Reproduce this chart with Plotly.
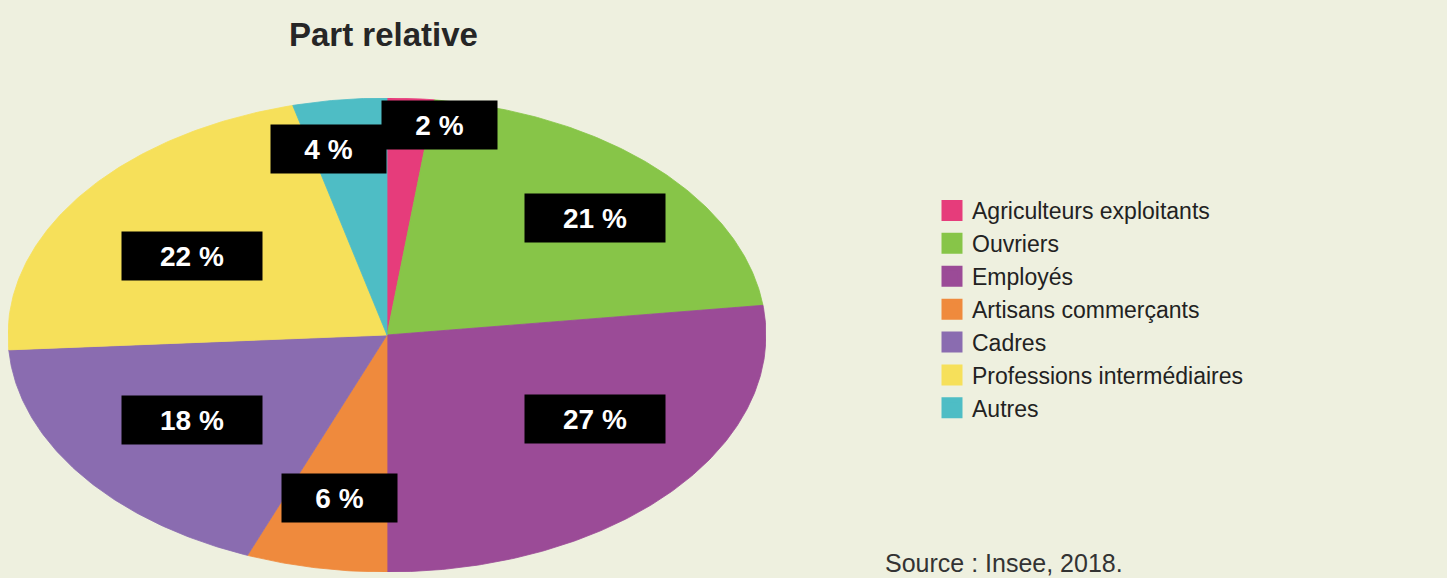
import math
import plotly.graph_objects as go

# ---- data ----
categories = ["Agriculteurs exploitants", "Ouvriers", "Employés", "Artisans commerçants",
              "Cadres", "Professions intermédiaires", "Autres"]
shares = [2, 21, 27, 6, 18, 22, 4]
title_text = "Part relative"
source_text = "Source : Insee, 2018."

# ---- styles ----
colors = ["#e63c7b", "#87c548", "#9b4b97", "#ef8a3d", "#8a6cb0", "#f6e05a", "#4ebdc5"]
label_radius = [0.9, 0.74, 0.66, 0.7, 0.63, 0.62, 0.79]
label_xshift = [31, 10, 20, 2, -2, -5, -21]
label_yshift = [-3, -7, 19, 0, 3, -7, 0]
bg = "#eef0df"
font_family = "Liberation Sans, Arial, sans-serif"

W, H = 1447, 578
fig = go.Figure()

total = sum(shares)
cum = 0.0
annotations = []
for i, (cat, v) in enumerate(zip(categories, shares)):
    f0 = cum / total
    f1 = (cum + v) / total
    cum += v
    n = max(3, int(600 * (f1 - f0)))
    xs, ys = [0.0], [0.0]
    for k in range(n + 1):
        t = 2 * math.pi * (f0 + (f1 - f0) * k / n)
        xs.append(math.sin(t))
        ys.append(math.cos(t))
    xs.append(0.0)
    ys.append(0.0)
    fig.add_trace(go.Scatter(
        x=xs, y=ys, mode="lines", fill="toself", fillcolor=colors[i],
        line=dict(color=colors[i], width=0.8), showlegend=False, hoverinfo="skip",
        name=cat,
    ))
    mid = 2 * math.pi * (f0 + f1) / 2
    r = label_radius[i]
    txt = f"{v} %"
    annotations.append(dict(
        x=r * math.sin(mid), y=r * math.cos(mid), xref="x", yref="y",
        text=f"<b>{txt}</b>", showarrow=False,
        xshift=label_xshift[i], yshift=label_yshift[i],
        font=dict(family=font_family, size=28, color="white"),
        bgcolor="black", borderpad=7,
        width=101 if len(str(v)) == 1 else 126, height=34,
    ))

# legend entries
for cat, c in zip(categories, colors):
    fig.add_trace(go.Scatter(
        x=[None], y=[None], mode="markers", name=cat,
        marker=dict(symbol="square", size=16, color=c, line=dict(color=c, width=5)),
        showlegend=True,
    ))

annotations.append(dict(
    x=1004 / W, y=1 - 563 / H, xref="paper", yref="paper", text=source_text,
    showarrow=False, xanchor="center", yanchor="middle",
    font=dict(family=font_family, size=25, color="#333333"),
))
annotations.append(dict(
    x=383 / W, y=1 - 34 / H, xref="paper", yref="paper", text=f"<b>{title_text}</b>",
    showarrow=False, xanchor="center", yanchor="middle",
    font=dict(family=font_family, size=33, color="#262626"),
))

fig.update_layout(
    width=W, height=H,
    margin=dict(l=0, r=0, t=0, b=0),
    paper_bgcolor=bg, plot_bgcolor=bg,
    showlegend=True,
    legend=dict(
        x=932 / W, y=1 - 189 / H, xanchor="left", yanchor="top",
        font=dict(family=font_family, size=23, color="#222222"),
        bgcolor="rgba(0,0,0,0)", itemclick=False, itemdoubleclick=False,
        traceorder="normal",
    ),
    xaxis=dict(range=[-1, 1], domain=[8 / W, 766 / W], visible=False, fixedrange=True),
    yaxis=dict(range=[-1, 1], domain=[1 - 572 / H, 1 - 98 / H], visible=False, fixedrange=True),
    annotations=annotations,
)

fig.write_html("out.html")
